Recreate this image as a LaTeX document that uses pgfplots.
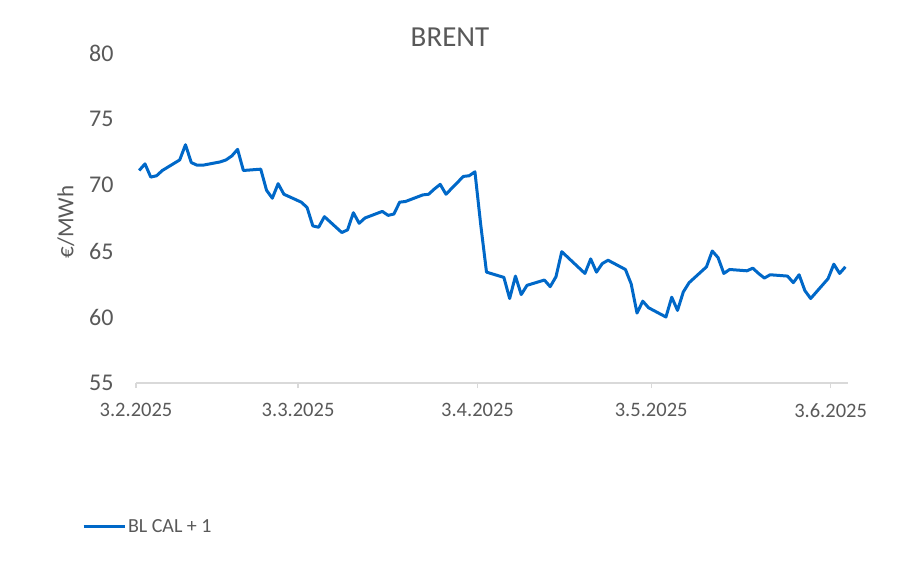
\documentclass[border=0pt]{standalone}
\usepackage{pgfplots}
\pgfplotsset{compat=1.18}
\usepackage{pgfplotstable}
\usepackage{fontspec}
\setmainfont{Carlito}
\definecolor{txt}{HTML}{595959}
\definecolor{lineblue}{RGB}{0,104,200}
\definecolor{axgray}{HTML}{D9D9D9}
\pgfplotstableread{
d v
0 71.1
1 71.6
2 70.6
3 70.7
4 71.1
7 71.9
8 73.05
9 71.7
10 71.5
11 71.5
14 71.75
15 71.9
16 72.2
17 72.7
18 71.1
21 71.2
22 69.6
23 69.0
24 70.1
25 69.3
28 68.7
29 68.3
30 66.9
31 66.8
32 67.6
35 66.4
36 66.6
37 67.9
38 67.1
39 67.5
42 68.0
43 67.7
44 67.8
45 68.7
46 68.75
49 69.25
50 69.3
51 69.7
52 70.05
53 69.3
56 70.65
57 70.7
58 71.0
59 67.0
60 63.4
63 63.0
64 61.4
65 63.1
66 61.7
67 62.4
70 62.8
71 62.3
72 63.05
73 64.95
77 63.3
78 64.4
79 63.4
80 64.05
81 64.3
84 63.6
85 62.5
86 60.3
87 61.2
88 60.7
91 60.0
92 61.5
93 60.5
94 61.9
95 62.6
98 63.8
99 65.0
100 64.5
101 63.3
102 63.6
105 63.5
106 63.7
107 63.3
108 62.95
109 63.2
112 63.1
113 62.6
114 63.2
115 62.0
116 61.4
119 62.9
120 64.0
121 63.3
122 63.8
}\brent
\begin{document}
\begin{tikzpicture}[x=1pt,y=1pt]
\path[use as bounding box] (0,0) rectangle (900,574);
\begin{axis}[
  at={(136pt,191pt)}, anchor=south west,
  scale only axis, width=712pt, height=330pt,
  xmin=0, xmax=123, ymin=55, ymax=80,
  axis x line=bottom, axis y line=left,
  axis line style={-},
  x axis line style={draw=axgray, line width=1.3pt},
  y axis line style={draw=none},
  xtick={0,28,59,89,120},
  xticklabels={3.2.2025,3.3.2025,3.4.2025,3.5.2025,3.6.2025},
  ytick={55,60,65,70,75,80},
  tick align=outside,
  major tick length=5pt,
  xtick style={draw=axgray, line width=1.3pt},
  ytick style={draw=none},
  /pgf/number format/assume math mode=true,
  xticklabel style={font=\fontsize{20.5}{24}\selectfont, text=txt, yshift=-12pt},
  yticklabel style={font=\fontsize{24}{28}\selectfont, text=txt, xshift=-14pt},
  legend image code/.code={\draw[#1] (0pt,0pt) -- (41pt,0pt);},
  legend style={draw=none, fill=none, at={(axis description cs:-0.0758,-0.436)}, anchor=west,
    font=\fontsize{20}{24}\selectfont, text=txt, inner sep=0pt, outer sep=0pt,
    nodes={inner sep=2pt}},
  clip=false,
]
\addplot[lineblue, line width=3pt, line join=round] table[x expr=\thisrow{d}+0.55, y=v] {\brent};
\addlegendentry{BL CAL + 1}
\end{axis}
\node[font=\fontsize{29}{34}\selectfont, text=txt] at (450,537) {BRENT};
\node[font=\fontsize{23}{27}\selectfont, text=txt, rotate=90] at (66,352) {€/MWh};
\end{tikzpicture}
\end{document}
